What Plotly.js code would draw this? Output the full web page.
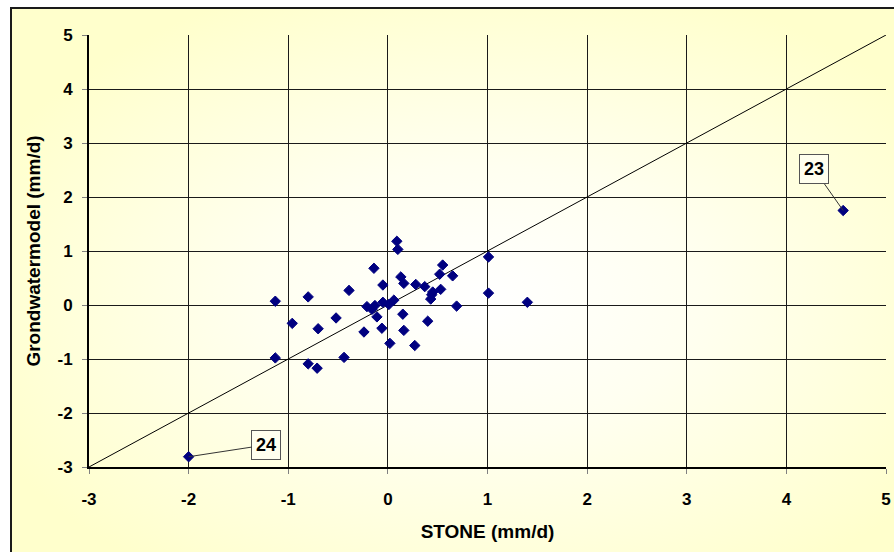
<!DOCTYPE html>
<html>
<head>
<meta charset="utf-8">
<script src="https://cdn.plot.ly/plotly-3.0.1.min.js"></script>
<style>
html, body { margin: 0; padding: 0; background: #ffffff; width: 894px; height: 552px; overflow: hidden; }
#bg { position: absolute; left: 10px; top: 7px; width: 900px; height: 560px; border: 2px solid #1a1a1a;
      background: radial-gradient(ellipse 60% 60% at 52% 52%, #ffffff 0%, #fffff0 40%, #ffffcc 100%); }
#chart { position: absolute; left: 0; top: 0; width: 894px; height: 552px; }
</style>
</head>
<body>
<div id="bg"></div>
<div id="chart"></div>
<script>
// STONE (mm/d) vs Grondwatermodel (mm/d)
const stone = [0.09, 0.10, -0.14, 0.55, 0.52, 0.65, 1.01, 0.13, 0.16, -0.05,
               -0.39, -0.80, 0.28, 0.37, 0.45, 0.53, 0.44, 0.43, 1.01, 1.40,
               0.69, -0.21, -0.13, -0.16, -0.11, -0.05, 0.01, 0.06, 0.15, -0.52,
               -0.96, -0.70, -0.06, -0.24, 0.16, 0.40, 0.02, 0.27, -0.44, -0.80,
               -0.71, -1.13, -1.13, 4.57, -2.00];
const grondwater = [1.18, 1.03, 0.68, 0.74, 0.57, 0.54, 0.89, 0.52, 0.40, 0.37,
                    0.27, 0.15, 0.38, 0.34, 0.24, 0.29, 0.19, 0.11, 0.22, 0.05,
                    -0.02, -0.03, -0.01, -0.08, -0.22, 0.05, 0.01, 0.09, -0.17, -0.24,
                    -0.34, -0.44, -0.43, -0.50, -0.47, -0.30, -0.71, -0.75, -0.97, -1.09,
                    -1.17, 0.07, -0.98, 1.75, -2.81];
const oneToOne = [-3, 5];
const tickVals = [-3, -2, -1, 0, 1, 2, 3, 4, 5];
const labelNames = ["23", "24"];
const labelX = [4.57, -2.00];
const labelY = [1.75, -2.81];
const labelBoxX = [4.28, -1.22];
const labelBoxY = [2.51, -2.59];

const traces = [
  {
    x: oneToOne, y: oneToOne, type: 'scatter', mode: 'lines',
    line: { color: '#000000', width: 1 }, hoverinfo: 'skip', showlegend: false
  },
  {
    x: stone, y: grondwater, type: 'scatter', mode: 'markers',
    marker: { symbol: 'diamond', size: 8, color: '#000080', line: { color: '#000080', width: 1 } },
    showlegend: false
  }
];

const annotations = labelNames.map((t, i) => ({
  x: labelX[i], y: labelY[i], xref: 'x', yref: 'y',
  ax: labelBoxX[i], ay: labelBoxY[i], axref: 'x', ayref: 'y',
  text: '<b>' + t + '</b>', showarrow: true, arrowhead: 0, arrowwidth: 1, arrowcolor: '#333333',
  font: { family: 'Liberation Sans, Arial, sans-serif', size: 18, color: '#000000' },
  bordercolor: '#555555', borderwidth: 1, borderpad: 4, bgcolor: 'rgba(255,255,240,0.9)'
}));

const tickFont = { family: 'Liberation Sans, Arial, sans-serif', size: 17, color: '#000000', weight: 'bold' };
const titleFont = { family: 'Liberation Sans, Arial, sans-serif', size: 19, color: '#000000', weight: 'bold' };

const layout = {
  width: 894, height: 552,
  margin: { l: 89, r: 8, t: 35, b: 85 },
  paper_bgcolor: 'rgba(0,0,0,0)', plot_bgcolor: 'rgba(0,0,0,0)',
  showlegend: false,
  xaxis: {
    range: [-3, 5], tickvals: tickVals, ticktext: tickVals.map(String),
    showgrid: true, gridcolor: '#1a1a1a', gridwidth: 1, zeroline: false,
    showline: true, linecolor: '#000000', linewidth: 2,
    ticks: 'outside', ticklen: 5, tickcolor: '#808080', tickwidth: 1,
    tickfont: tickFont, ticklabelstandoff: 11,
    title: { text: '<b>STONE (mm/d)</b>', font: titleFont, standoff: 16 }
  },
  yaxis: {
    range: [-3, 5], tickvals: tickVals, ticktext: tickVals.map(String),
    showgrid: true, gridcolor: '#1a1a1a', gridwidth: 1, zeroline: false,
    showline: true, linecolor: '#000000', linewidth: 2,
    ticks: 'outside', ticklen: 5, tickcolor: '#808080', tickwidth: 1,
    tickfont: tickFont, ticklabelstandoff: 6,
    title: { text: '<b>Grondwatermodel (mm/d)</b>', font: titleFont, standoff: 12 }
  },
  annotations: annotations
};

Plotly.newPlot('chart', traces, layout, { displayModeBar: false, staticPlot: true });
</script>
</body>
</html>
